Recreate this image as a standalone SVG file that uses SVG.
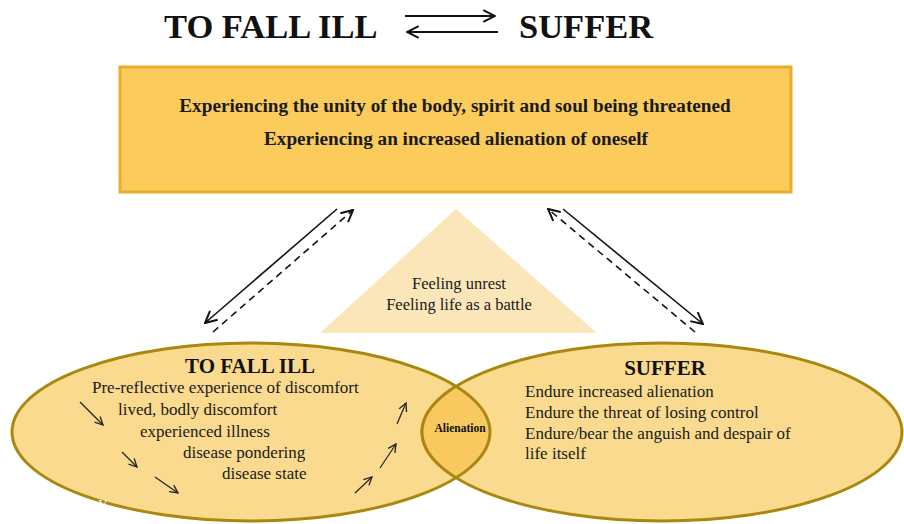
<svg xmlns="http://www.w3.org/2000/svg" width="904" height="524" viewBox="0 0 904 524">
<style>
.dgT{font-family:'Liberation Serif',serif;font-size:34.5px;font-weight:bold;fill:#111}
.dgB{font-family:'Liberation Serif',serif;font-size:19.2px;font-weight:bold;fill:#1a1a1a}
.dgX{font-family:'Liberation Serif',serif;font-size:17px;fill:#1a1a1a}
.dgF{font-family:'Liberation Serif',serif;font-size:16.5px;fill:#1a1a1a}
.dgH{font-family:'Liberation Serif',serif;font-size:21px;font-weight:bold;fill:#111}
.dgA{font-family:'Liberation Serif',serif;font-size:11.5px;font-weight:bold;fill:#111}
.con{fill:none;stroke:#111;stroke-width:1.6}
.dash{stroke-dasharray:7 5}
.small{fill:none;stroke:#222;stroke-width:1.2}
</style>
<defs>
<marker id="ah" markerUnits="userSpaceOnUse" markerWidth="14" markerHeight="14" refX="11" refY="6" orient="auto" viewBox="0 0 12 12">
<path d="M1,1 L11,6 L1,11" fill="none" stroke="#111" stroke-width="1.7"/>
</marker>
<marker id="ahs" markerUnits="userSpaceOnUse" markerWidth="10" markerHeight="10" refX="9" refY="5" orient="auto" viewBox="0 0 10 10">
<path d="M1,1 L9,5 L1,9" fill="none" stroke="#222" stroke-width="1.3"/>
</marker>
<clipPath id="clipL"><ellipse cx="251" cy="432" rx="239" ry="89"/></clipPath>
<clipPath id="clipR"><ellipse cx="662" cy="432" rx="240" ry="89"/></clipPath>
</defs>
<rect width="904" height="524" fill="#ffffff"/>

<g id="title">
<text class="dgT" x="164" y="38">TO FALL ILL</text>
<text class="dgT" x="519" y="38">SUFFER</text>
</g>

<g id="box">
<rect x="120" y="67" width="671" height="125" fill="#fbcb5c" stroke="#e9ad2b" stroke-width="3"/>
<text class="dgB" x="455" y="112" text-anchor="middle">Experiencing the unity of the body, spirit and soul being threatened</text>
<text class="dgB" x="456" y="145" text-anchor="middle">Experiencing an increased alienation of oneself</text>
</g>

<g id="triangle">
<polygon points="456,209 320,333 597,333" fill="#fbe6b9"/>
<text class="dgF" x="459" y="289" text-anchor="middle">Feeling unrest</text>
<text class="dgF" x="459" y="310" text-anchor="middle">Feeling life as a battle</text>
</g>

<g id="to-fall-ill">
<ellipse cx="251" cy="432" rx="239" ry="89" fill="#f9da8e" stroke="#a8880f" stroke-width="3"/>
<text class="dgH" x="250" y="373" text-anchor="middle">TO FALL ILL</text>
<text class="dgX" x="92" y="393">Pre-reflective experience of discomfort</text>
<text class="dgX" x="118" y="415">lived, bodly discomfort</text>
<text class="dgX" x="140" y="437">experienced illness</text>
<text class="dgX" x="183" y="458">disease pondering</text>
<text class="dgX" x="222" y="479">disease state</text>
<text x="103" y="508" text-anchor="middle" style="font-family:'Liberation Serif',serif;font-size:13px;fill:#ffffff">V</text>
<line class="small" x1="80" y1="402" x2="103" y2="425" marker-end="url(#ahs)"/>
<line class="small" x1="122" y1="452" x2="137" y2="467" marker-end="url(#ahs)"/>
<line class="small" x1="155" y1="477" x2="178" y2="493" marker-end="url(#ahs)"/>
<line class="small" x1="397" y1="424" x2="406" y2="403" marker-end="url(#ahs)"/>
<line class="small" x1="380" y1="468" x2="396" y2="444" marker-end="url(#ahs)"/>
<line class="small" x1="355" y1="493" x2="372" y2="477" marker-end="url(#ahs)"/>
</g>

<g id="suffer">
<ellipse cx="662" cy="432" rx="240" ry="89" fill="#f9da8e" stroke="#a8880f" stroke-width="3"/>
<text class="dgH" x="665" y="375" text-anchor="middle">SUFFER</text>
<text class="dgX" x="525" y="397">Endure increased alienation</text>
<text class="dgX" x="525" y="418">Endure the threat of losing control</text>
<text class="dgX" x="525" y="439">Endure/bear the anguish and despair of</text>
<text class="dgX" x="525" y="459">life itself</text>
</g>

<g id="alienation">
<ellipse cx="662" cy="432" rx="240" ry="89" fill="#f7c95e" clip-path="url(#clipL)"/>
<ellipse cx="251" cy="432" rx="239" ry="89" fill="none" stroke="#a8880f" stroke-width="3" clip-path="url(#clipR)"/>
<ellipse cx="662" cy="432" rx="240" ry="89" fill="none" stroke="#a8880f" stroke-width="3" clip-path="url(#clipL)"/>
<text class="dgA" x="460" y="432" text-anchor="middle">Alienation</text>
</g>

<g id="connectors">
<line class="con" x1="405" y1="16" x2="495" y2="16" marker-end="url(#ah)" style="stroke-width:2"/>
<line class="con" x1="498" y1="32" x2="407" y2="32" marker-end="url(#ah)" style="stroke-width:2"/>
<line class="con" x1="337" y1="209" x2="205" y2="323" marker-end="url(#ah)"/>
<line class="con dash" x1="213" y1="332" x2="353" y2="210" marker-end="url(#ah)"/>
<line class="con" x1="563" y1="209" x2="703" y2="324" marker-end="url(#ah)"/>
<line class="con dash" x1="695" y1="332" x2="548" y2="209" marker-end="url(#ah)"/>
</g>
</svg>
